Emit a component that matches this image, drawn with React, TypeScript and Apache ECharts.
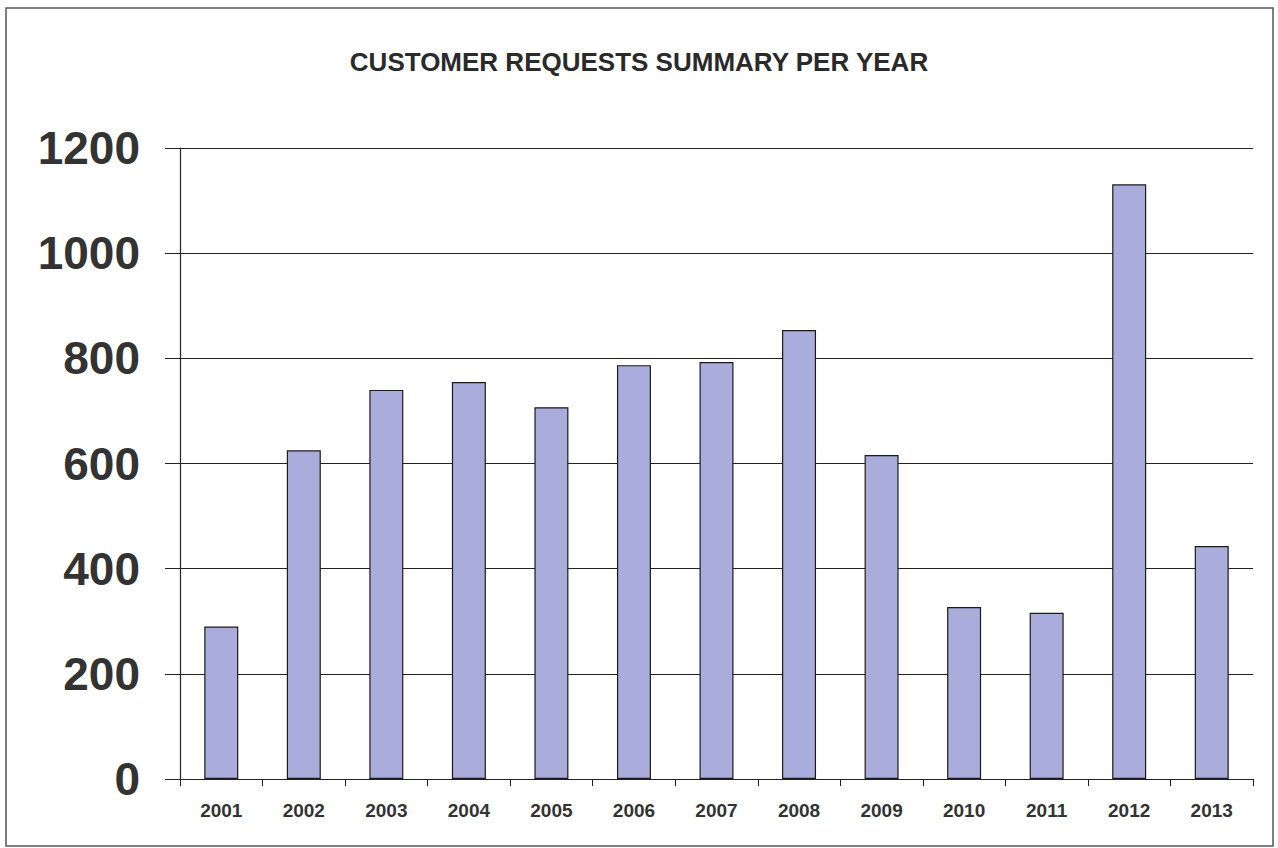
import React, { useEffect, useRef } from "react";
import * as echarts from "echarts";

const years = ["2001", "2002", "2003", "2004", "2005", "2006", "2007", "2008", "2009", "2010", "2011", "2012", "2013"];
const requests = [290, 625, 740, 755, 707, 787, 793, 854, 616, 327, 316, 1131, 443];
const titleText = "CUSTOMER REQUESTS SUMMARY PER YEAR";

export default function App() {
  const ref = useRef<HTMLDivElement>(null);
  useEffect(() => {
    if (!ref.current) return;
    const chart = echarts.init(ref.current, null, { renderer: "svg" });
    chart.setOption({
      animation: false,
      backgroundColor: "#ffffff",
      title: {
        text: titleText,
        left: "center",
        top: 44,
        textStyle: {
          fontFamily: "Liberation Sans",
          fontWeight: "bold",
          fontSize: 26,
          color: "#2a2a2a",
        },
      },
      graphic: [
        {
          type: "rect",
          shape: { x: 6, y: 8, width: 1267, height: 838 },
          style: { fill: "none", stroke: "#555555", lineWidth: 1.5 },
          silent: true,
        },
      ],
      grid: { left: 180, right: 25, top: 148, bottom: 69 },
      xAxis: {
        type: "category",
        data: years,
        axisLine: { lineStyle: { color: "#222222", width: 1.2 } },
        axisTick: { show: true, length: 7, lineStyle: { color: "#222222" } },
        axisLabel: {
          fontFamily: "Liberation Sans",
          fontWeight: "bold",
          fontSize: 19,
          color: "#333333",
          margin: 22,
        },
      },
      yAxis: {
        type: "value",
        min: 0,
        max: 1200,
        interval: 200,
        axisLine: { show: true, lineStyle: { color: "#222222", width: 1.2 } },
        axisTick: { show: true, length: 15, lineStyle: { color: "#222222" } },
        axisLabel: {
          fontFamily: "Liberation Sans",
          fontWeight: "bold",
          fontSize: 46,
          color: "#333333",
          margin: 40,
          formatter: (v: number) => String(v),
        },
        splitLine: { show: true, lineStyle: { color: "#222222", width: 1.2 } },
      },
      series: [
        {
          type: "bar",
          data: requests,
          barWidth: 34,
          itemStyle: { color: "#aaaddb", borderColor: "#1a1a1a", borderWidth: 1.2 },
        },
      ],
    });
    return () => chart.dispose();
  }, []);
  return (
    <div
      ref={ref}
      style={{ position: "fixed", left: 0, top: 0, width: 1278, height: 848 }}
    />
  );
}
